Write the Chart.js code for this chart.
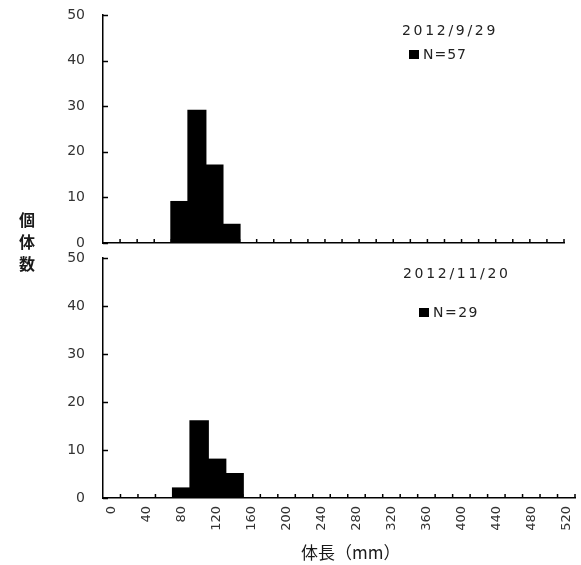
<!DOCTYPE html>
<html><head><meta charset="utf-8">
<script src="https://cdn.jsdelivr.net/npm/chart.js@4"></script>
<style>
body{margin:0;background:#fff;width:581px;height:565px;position:relative;overflow:hidden;font-family:"DejaVu Sans",sans-serif;}
canvas{position:absolute;left:0;}
.t{position:absolute;color:#222;white-space:nowrap;font-size:14px;line-height:16px;}
.sq{display:inline-block;width:10px;height:9px;background:#000;margin-right:4px;vertical-align:0px;}
</style></head><body>
<canvas id="c1" width="581" height="250" style="top:0"></canvas>
<canvas id="c2" width="581" height="315" style="top:250px"></canvas>
<div class="t" style="left:402px;top:22px;letter-spacing:2.7px">2012/9/29</div>
<div class="t" style="left:409px;top:46px;letter-spacing:1px"><span class="sq"></span>N=57</div>
<div class="t" style="left:403px;top:265px;letter-spacing:2.7px">2012/11/20</div>
<div class="t" style="left:419px;top:304px;letter-spacing:1.5px"><span class="sq"></span>N=29</div>
<div class="t" style="left:19px;top:208px;width:18px;font-family:'Noto Sans CJK JP';font-weight:bold;font-size:16px;line-height:22px;white-space:normal;color:#1a1a1a">個体数</div>
<div class="t" style="left:301px;top:542px;font-family:'Noto Sans CJK JP';font-size:17px;line-height:20px;color:#1a1a1a">体長（mm）</div>
<script>
const categories = ['0','20','40','60','80','100','120','140','160','180','200','220','240','260','280','300','320','340','360','380','400','420','440','460','480','500','520'];
const countsSep29 = [0,0,0,0,9,29,17,4,0,0,0,0,0,0,0,0,0,0,0,0,0,0,0,0,0,0,0];
const countsNov20 = [0,0,0,0,2,16,8,5,0,0,0,0,0,0,0,0,0,0,0,0,0,0,0,0,0,0,0];
const shownXLabels = ['0','40','80','120','160','200','240','280','320','360','400','440','480','520'];
const yTickValues = [0,10,20,30,40,50];

const innerTicks = {
  id:'innerTicks',
  afterDatasetsDraw(chart){
    const {ctx, scales:{x,y}, chartArea:a} = chart;
    ctx.save(); ctx.strokeStyle='#000'; ctx.lineWidth=1.5;
    yTickValues.forEach(v=>{ const py=Math.round(y.getPixelForValue(v))+0.5; ctx.beginPath(); ctx.moveTo(a.left, py); ctx.lineTo(a.left+5, py); ctx.stroke(); });
    for (let i=1;i<=categories.length;i++){ const px=x.getPixelForValue(i-0.5); ctx.beginPath(); ctx.moveTo(px,a.bottom); ctx.lineTo(px,a.bottom-4); ctx.stroke(); }
    ctx.restore();
  }
};

function makeChart(id, counts, pad, showX){
  return new Chart(document.getElementById(id), {
    type:'bar',
    data:{labels:categories, datasets:[{data:counts, backgroundColor:'#000', borderWidth:0, inflateAmount:1, barPercentage:1, categoryPercentage:1}]},
    options:{
      responsive:false, animation:false,
      layout:{padding:pad},
      plugins:{legend:{display:false}, tooltip:{enabled:false}},
      scales:{
        x:{
          offset:true,
          grid:{display:true, drawOnChartArea:false, drawTicks:false},
          border:{display:true, color:'#000', width:1.5},
          ticks:{display:showX, autoSkip:false, minRotation:90, maxRotation:90, padding:8, color:'#333',
                 font:{family:'DejaVu Sans', size:13},
                 callback(v,i){ const l=categories[i]; return shownXLabels.includes(l)?l:''; }},
          afterFit(s){ s.height = showX?67:0; s.paddingLeft=0; s.paddingRight=0; }
        },
        y:{
          min:0, max:50,
          grid:{display:true, drawOnChartArea:false, drawTicks:false},
          border:{display:true, color:'#000', width:1.5},
          ticks:{stepSize:10, padding:18, color:'#333', font:{family:'DejaVu Sans', size:14}},
          afterFit(s){ s.width=103; s.paddingTop=0; s.paddingBottom=0; }
        }
      }
    },
    plugins:[innerTicks]
  });
}
makeChart('c1', countsSep29, {left:0, top:15, right:17, bottom:7}, false);
makeChart('c2', countsNov20, {left:0, top:8, right:6, bottom:0}, true);
</script>
</body></html>
